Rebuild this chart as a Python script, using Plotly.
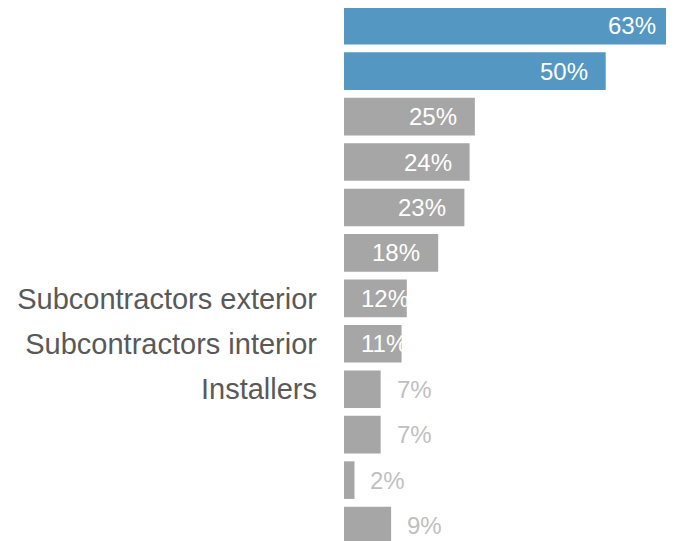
import plotly.graph_objects as go

categories = ["", "", "", "", "", "", "Subcontractors exterior", "Subcontractors interior",
              "Installers", "", "", ""]
values = [63, 50, 25, 24, 23, 18, 12, 11, 7, 7, 2, 9]
highlight = [True, True, False, False, False, False, False, False, False, False, False, False]

BLUE = "#5397C2"
GRAY = "#A6A6A6"
positions = list(range(len(values)))

fig = go.Figure()
fig.add_trace(go.Bar(
    x=values, y=positions, orientation="h",
    marker=dict(color=[BLUE if h else GRAY for h in highlight], line=dict(width=0)),
    hoverinfo="skip",
))

annotations = []
for p, v in zip(positions, values):
    txt = f"{v}%"
    if v >= 18:
        annotations.append(dict(x=v, y=p, text=txt, xanchor="right", xshift=-16,
                                showarrow=False, font=dict(color="white", size=24)))
    elif v >= 10:
        annotations.append(dict(x=0, y=p, text=txt, xanchor="left", xshift=15,
                                showarrow=False, font=dict(color="white", size=24)))
    else:
        annotations.append(dict(x=v, y=p, text=txt, xanchor="left", xshift=14,
                                showarrow=False, font=dict(color="#BFBFBF", size=24)))

fig.update_layout(
    width=666, height=533,
    margin=dict(l=336, r=0, t=0, b=0),
    paper_bgcolor="white", plot_bgcolor="white",
    bargap=0.172,
    showlegend=False,
    font=dict(family="Liberation Sans, Arial, sans-serif"),
    annotations=annotations,
)
fig.update_xaxes(range=[0, 63.05], visible=False, fixedrange=True)
fig.update_yaxes(
    range=[11.34, -0.39],
    tickmode="array", tickvals=positions, ticktext=categories,
    tickfont=dict(size=29, color="#595959"),
    showgrid=False, zeroline=False, showline=False,
    ticks="", ticklabelstandoff=26,
)

fig.write_html(
    "out.html",
    post_script="document.documentElement.style.overflow='hidden';document.body.style.overflow='hidden';",
)
